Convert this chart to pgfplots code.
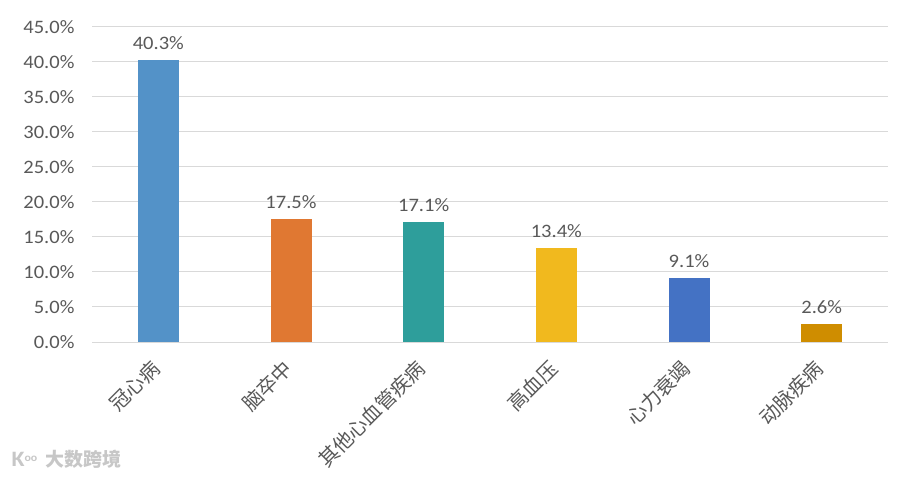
\documentclass[border=0pt]{standalone}
\usepackage{fontspec}
\setmainfont{Carlito}[FakeStretch=1.08]
\newfontfamily\cjk{Noto Sans CJK SC}
\usepackage{pgfplots}
\pgfplotsset{compat=1.18}
\definecolor{c1}{RGB}{83,146,200}
\definecolor{c2}{RGB}{224,120,50}
\definecolor{c3}{RGB}{46,158,155}
\definecolor{c4}{RGB}{241,185,30}
\definecolor{c5}{RGB}{68,114,196}
\definecolor{c6}{RGB}{207,141,0}
\definecolor{txt}{RGB}{89,89,89}
\definecolor{gridc}{RGB}{217,217,217}
\begin{document}
\begin{tikzpicture}
\useasboundingbox (0,0) rectangle (900bp,483bp);
\fill[white] (0,0) rectangle (900bp,483bp);
\begin{axis}[
  at={(92bp,141bp)}, anchor=south west,
  scale only axis, width=796bp, height=315bp,
  ybar, bar width=41bp,
  xmin=-0.5, xmax=5.5, ymin=0, ymax=45,
  ytick={0,5,...,45},
  xtick={0,...,5},
  xticklabels={冠心病,脑卒中,其他心血管疾病,高血压,心力衰竭,动脉疾病},
  xticklabel style={xshift=0bp, yshift=-20bp, font=\cjk\fontsize{20bp}{22bp}\selectfont, text=txt, rotate=45, anchor=east},
  yticklabel={\pgfmathprintnumber[fixed,fixed zerofill,precision=1]{\tick}\%},
  yticklabel style={font=\fontsize{19bp}{22bp}\selectfont, text=txt, xshift=-14bp},
  /pgf/number format/assume math mode=true,
  major tick length=0pt,
  axis line style={draw=none},
  xmajorgrids=false, ymajorgrids=true,
  major grid style={draw=gridc, line width=1bp},
  nodes near coords={\pgfmathprintnumber[fixed,fixed zerofill,precision=1]{\pgfplotspointmeta}\%},
  nodes near coords style={font=\fontsize{19bp}{22bp}\selectfont, text=txt, yshift=7bp},
  clip=false,
]
\addplot[fill=c1, draw=none, bar shift=0pt] coordinates {(0,40.3)};
\addplot[fill=c2, draw=none, bar shift=0pt] coordinates {(1,17.5)};
\addplot[fill=c3, draw=none, bar shift=0pt] coordinates {(2,17.1)};
\addplot[fill=c4, draw=none, bar shift=0pt] coordinates {(3,13.4)};
\addplot[fill=c5, draw=none, bar shift=0pt] coordinates {(4,9.1)};
\addplot[fill=c6, draw=none, bar shift=0pt] coordinates {(5,2.6)};
\end{axis}
\node[anchor=west, text=black!22, font=\cjk\bfseries\fontsize{19bp}{22bp}\selectfont] at (42bp,24bp) {大数跨境};
\node[anchor=west, text=black!22, font=\bfseries\fontsize{22bp}{24bp}\selectfont] at (8bp,24bp) {K\raisebox{5bp}{\fontsize{11bp}{12bp}\selectfont oo}};
\end{tikzpicture}
\end{document}
